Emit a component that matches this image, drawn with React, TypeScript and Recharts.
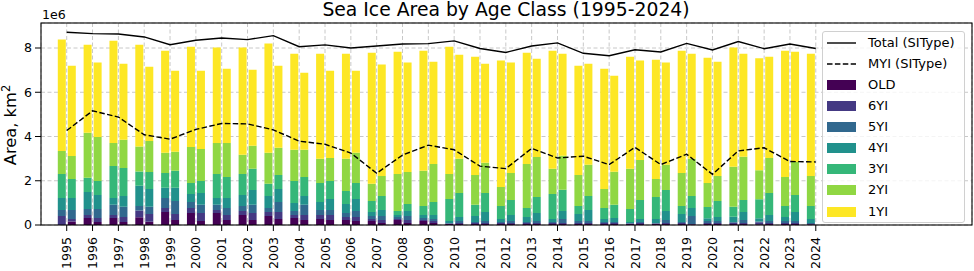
import {
  ComposedChart, Bar, Line, XAxis, YAxis, CartesianGrid,
} from "recharts";

// años y series (área en millones de km²); "a" = barra izquierda, "b" = barra derecha
const YEARS = [
  "1995", "1996", "1997", "1998", "1999", "2000", "2001", "2002", "2003", "2004",
  "2005", "2006", "2007", "2008", "2009", "2010", "2011", "2012", "2013", "2014",
  "2015", "2016", "2017", "2018", "2019", "2020", "2021", "2022", "2023", "2024",
];

const OLD_A = [0, .32, .32, .35, .59, .54, .54, .45, .41, .32, .27, .23, .18, .23, .18, .05, .05, .05, .05, .05, .05, .05, .05, .05, .05, .05, .05, .03, .05, .03];
const YI6_A = [.41, .13, .13, .30, .18, .23, .14, .18, .18, .13, .18, .13, .09, .04, .05, .02, .04, .04, .04, .04, .04, .04, .02, .02, .04, .04, .05, .09, .04, .02];
const YI5_A = [.27, .27, .46, .21, .45, .27, .23, .23, .18, .18, .23, .18, .14, .09, .09, .02, .05, .05, .05, .05, .09, .05, .02, .02, .05, .09, .04, .04, .09, .04];
const YI4_A = [.54, .77, .31, .91, .46, .36, .31, .50, .54, .37, .36, .41, .18, .09, .13, .09, .27, .13, .22, .13, .32, .13, .05, .18, .36, .13, .23, .14, .18, .18];
const YI3_A = [1.09, .64, 1.45, .65, .67, .50, 1.09, .95, .55, .99, .86, .59, .50, .18, .41, 1.00, .50, .59, .41, 1.13, .36, .50, .58, .99, .36, .50, .45, .86, .50, .59];
const YI2_A = [1.04, 2.04, 1.04, 1.13, .91, 1.63, 1.40, .86, 1.40, 1.41, 1.09, 1.45, .78, 1.68, 1.59, 1.13, 1.35, .86, 1.99, 1.14, 1.40, .86, 1.82, .82, 1.49, 1.09, 1.81, 1.31, 1.31, 1.36];
const YI1_A = [5.03, 3.98, 4.62, 4.60, 4.62, 4.53, 4.31, 4.85, 4.94, 4.34, 4.75, 4.75, 5.92, 5.52, 5.43, 5.75, 5.35, 5.71, 5.03, 5.34, 4.94, 5.43, 5.07, 5.39, 5.53, 5.66, 5.39, 5.07, 5.71, 5.52];

const OLD_B = [.16, .14, .14, .15, .23, .18, .23, .23, .27, .23, .23, .18, .09, .09, .09, .05, .05, .05, .05, .05, .05, .05, .05, .05, .03, .05, .05, .05, .05, null];
const YI6_B = [.11, .18, .22, .35, .27, .36, .22, .31, .32, .22, .22, .18, .14, .14, .09, .04, .04, .04, .04, .04, .04, .04, .04, .04, .02, .04, .04, .04, .04, null];
const YI5_B = [.41, .40, .46, .32, .59, .37, .32, .37, .45, .46, .23, .27, .18, .18, .09, .09, .09, .09, .09, .18, .09, .05, .05, .14, .36, .09, .14, .09, .09, null];
const YI4_B = [.54, .64, .49, .81, .59, .54, .45, .67, .59, .40, .50, .55, .27, .22, .18, .18, .41, .27, .36, .36, .50, .18, .13, .40, .36, .18, .36, .27, .41, null];
const YI3_B = [.86, .63, 1.27, .77, .77, .54, .95, .96, .63, .86, .81, .72, .63, .32, .59, 1.09, .86, .68, .72, .96, .63, .59, .86, .95, .54, .73, .54, 1.00, .77, null];
const YI2_B = [1.04, 1.99, 1.27, 1.40, .86, 1.45, 1.54, 1.04, 1.23, 1.23, 1.04, 1.36, .91, 1.45, 1.72, 1.54, 1.36, 1.22, 1.81, 1.54, 1.41, 1.50, 1.81, 1.14, 1.68, 1.13, 1.95, 1.58, 1.49, null];
const YI1_B = [4.08, 3.36, 3.44, 3.35, 3.66, 3.53, 3.35, 3.44, 3.71, 3.48, 3.94, 3.71, 5.03, 4.94, 4.62, 4.71, 4.48, 4.99, 4.44, 4.61, 4.57, 4.34, 4.49, 4.62, 4.75, 5.16, 4.66, 4.58, 4.98, null];

const TOTAL = [8.71, 8.65, 8.63, 8.50, 8.15, 8.35, 8.45, 8.38, 8.56, 8.06, 8.14, 8.00, 8.09, 8.18, 8.20, 8.32, 7.98, 7.80, 8.09, 8.23, 7.76, 7.65, 7.92, 7.82, 8.21, 7.91, 8.29, 7.97, 8.18, 7.98];
const MYI = [4.27, 5.16, 4.88, 4.08, 3.88, 4.32, 4.59, 4.57, 4.30, 3.79, 3.65, 3.25, 2.34, 3.16, 3.61, 3.40, 2.66, 2.55, 3.46, 3.03, 3.11, 2.73, 3.51, 2.73, 3.20, 2.29, 3.35, 3.49, 2.87, 2.85];

const Y_TICKS = [0, 2, 4, 6, 8];

// clases de edad, de abajo hacia arriba (viridis)
const CLASES = [
  { key: "old", label: "OLD", color: "#440154", a: OLD_A, b: OLD_B },
  { key: "yi6", label: "6YI", color: "#443983", a: YI6_A, b: YI6_B },
  { key: "yi5", label: "5YI", color: "#31688e", a: YI5_A, b: YI5_B },
  { key: "yi4", label: "4YI", color: "#21918c", a: YI4_A, b: YI4_B },
  { key: "yi3", label: "3YI", color: "#35b779", a: YI3_A, b: YI3_B },
  { key: "yi2", label: "2YI", color: "#90d743", a: YI2_A, b: YI2_B },
  { key: "yi1", label: "1YI", color: "#fde725", a: YI1_A, b: YI1_B },
];

const datos = YEARS.map((year, i) => {
  const row: Record<string, any> = { year, total: TOTAL[i], myi: MYI[i] };
  CLASES.forEach((c) => {
    row[`${c.key}_a`] = c.a[i];
    row[`${c.key}_b`] = c.b[i];
  });
  return row;
});

const FONT = "'DejaVu Sans', sans-serif";

const YearTick = ({ x, y, payload }: any) => (
  <text
    x={x}
    y={y}
    transform={`rotate(-90, ${x}, ${y})`}
    textAnchor="end"
    dy="0.36em"
    fontSize={12.6}
    fill="#000"
  >
    {payload.value}
  </text>
);

export default function App() {
  return (
    <div style={{ position: "absolute", left: 0, top: 0, width: 974, height: 271, background: "#fff", fontFamily: FONT }}>
      <ComposedChart
        width={974}
        height={271}
        data={datos}
        margin={{ top: 23, right: 2, bottom: 0, left: 0 }}
        barSize={8}
        barGap={2}
      >
        <CartesianGrid stroke="#c8c8c8" strokeDasharray="4 2.5" />
        <XAxis
          dataKey="year"
          height={46}
          interval={0}
          padding={{ left: 12.8, right: 143.3 }}
          axisLine={false}
          tickLine={{ stroke: "#000" }}
          tickSize={6}
          tickMargin={6}
          tick={<YearTick />}
        />
        <YAxis
          width={41}
          domain={[0, 9.13]}
          ticks={Y_TICKS}
          allowDataOverflow
          axisLine={false}
          tickLine={{ stroke: "#000" }}
          tickSize={6}
          tickMargin={3}
          tick={{ fontSize: 12.6, fill: "#000" }}
        />
        {CLASES.map((c) => (
          <Bar key={`${c.key}_a`} dataKey={`${c.key}_a`} stackId="a" fill={c.color} isAnimationActive={false} />
        ))}
        {CLASES.map((c) => (
          <Bar key={`${c.key}_b`} dataKey={`${c.key}_b`} stackId="b" fill={c.color} isAnimationActive={false} />
        ))}
        <Line dataKey="total" type="linear" stroke="#000" strokeWidth={1.4} dot={false} isAnimationActive={false} />
        <Line dataKey="myi" type="linear" stroke="#000" strokeWidth={1.4} strokeDasharray="5.5 2.4" dot={false} isAnimationActive={false} />
      </ComposedChart>

      <svg width={974} height={271} style={{ position: "absolute", left: 0, top: 0, pointerEvents: "none" }}>
        <rect x={41} y={23} width={931} height={202} fill="none" stroke="#000" strokeWidth={1.1} />
        <text x={506} y={16} textAnchor="middle" fontSize={18.8} fill="#000">
          Sea Ice Area by Age Class (1995-2024)
        </text>
        <text x={42} y={19} fontSize={12.6} fill="#000">1e6</text>
        <text transform="translate(16,125) rotate(-90)" textAnchor="middle" fontSize={16.3} fill="#000">
          Area, km<tspan dy={-6} fontSize={11.5}>2</tspan>
        </text>
      </svg>

      <div
        style={{
          position: "absolute", left: 822, top: 31, width: 143, height: 192,
          boxSizing: "border-box", border: "1px solid #d0d0d0", borderRadius: 3,
          background: "rgba(255,255,255,0.8)", fontSize: 13, color: "#000",
        }}
      >
        {[
          { label: "Total (SIType)", tipo: "linea" },
          { label: "MYI (SIType)", tipo: "guiones" },
          ...CLASES.map((c) => ({ label: c.label, tipo: c.color })),
        ].map((item, i) => (
          <div
            key={item.label}
            style={{ position: "absolute", left: 4, top: 10.7 + i * 21.1 - 8, height: 16, display: "flex", alignItems: "center" }}
          >
            <svg width={29} height={16} style={{ display: "block" }}>
              {item.tipo === "linea" && <line x1={0} x2={29} y1={8} y2={8} stroke="#000" strokeWidth={1.4} />}
              {item.tipo === "guiones" && <line x1={0} x2={29} y1={8} y2={8} stroke="#000" strokeWidth={1.4} strokeDasharray="5.5 2.4" />}
              {item.tipo !== "linea" && item.tipo !== "guiones" && <rect x={0} y={3} width={29} height={10} fill={item.tipo} />}
            </svg>
            <span style={{ marginLeft: 12, whiteSpace: "nowrap", lineHeight: "16px" }}>{item.label}</span>
          </div>
        ))}
      </div>
    </div>
  );
}
